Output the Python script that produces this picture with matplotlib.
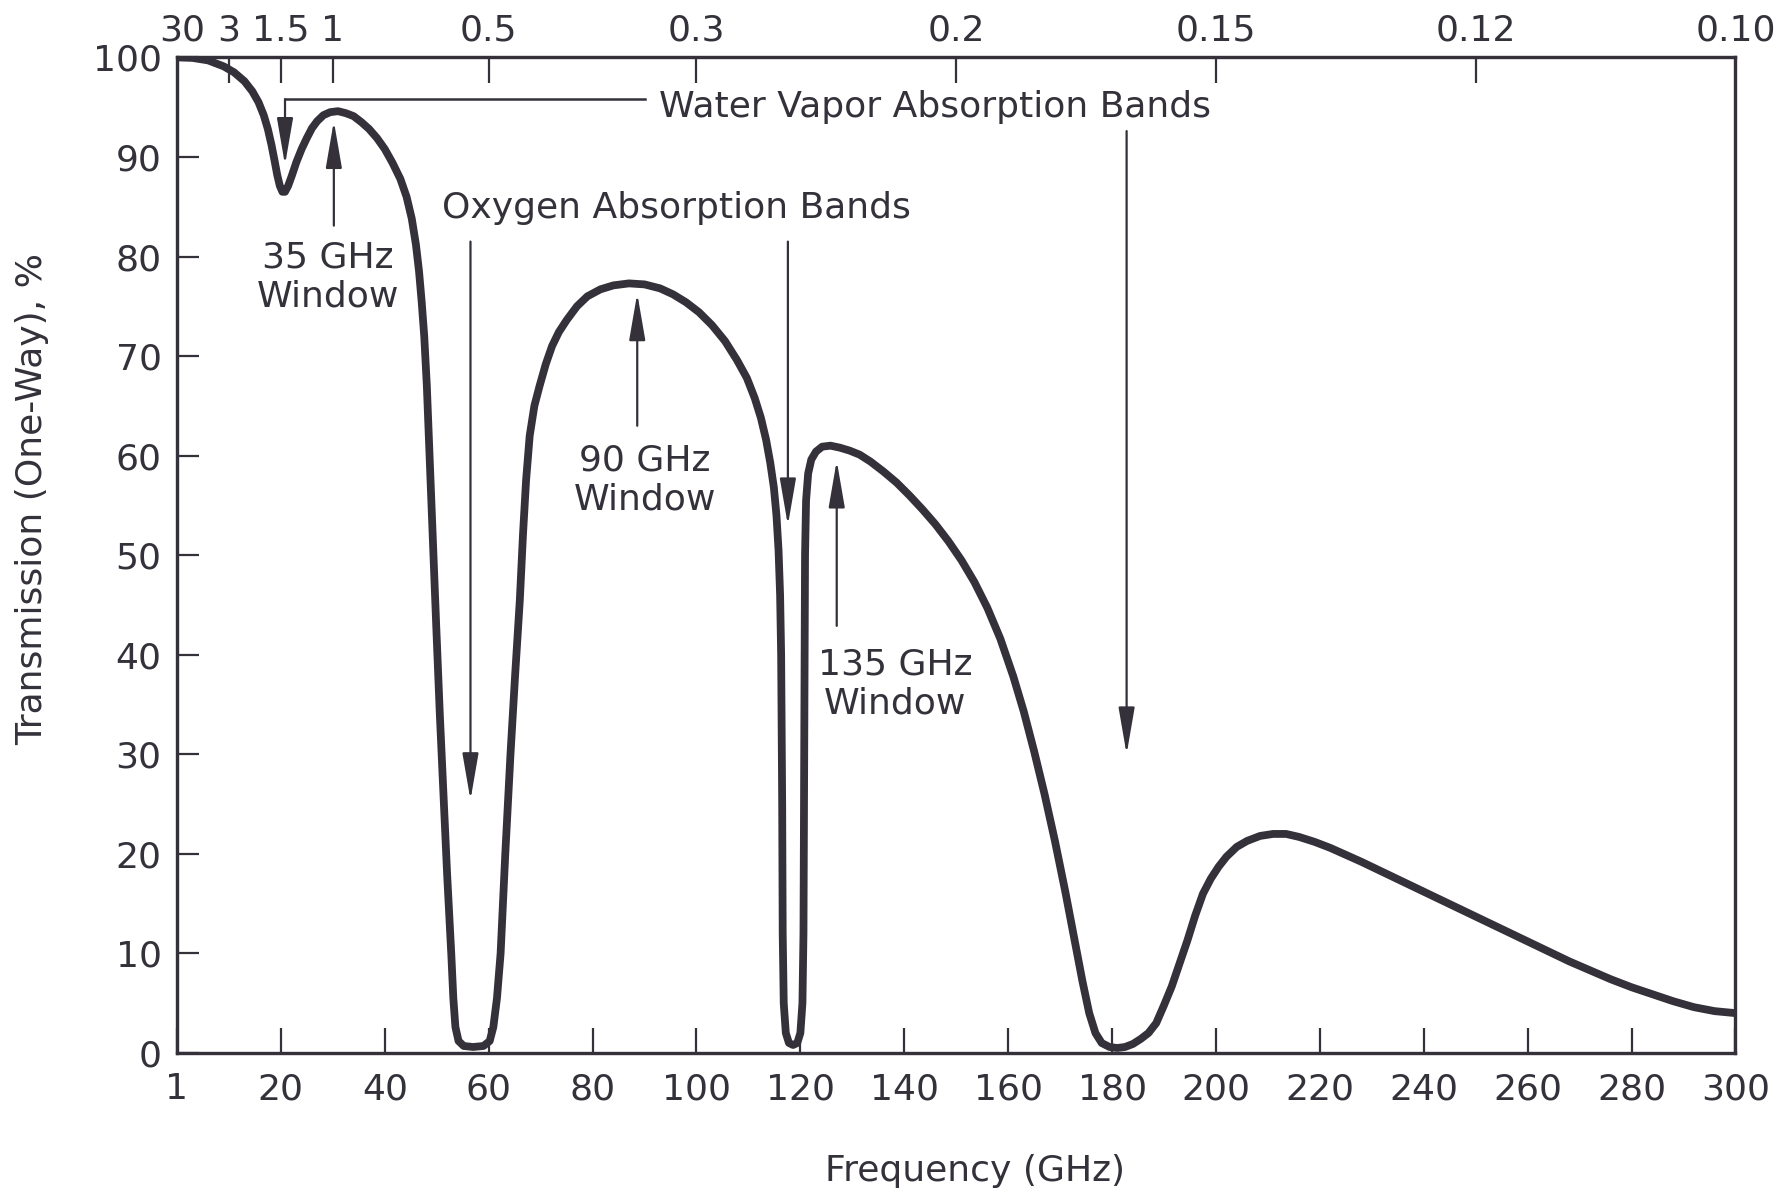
#!/usr/bin/env python3
# -*- coding: utf-8 -*-

"""Atmospheric transmission vs. frequency, 1-300 GHz."""

import matplotlib
matplotlib.use('Agg')
import matplotlib.pyplot as plt
from matplotlib.patches import ArrowStyle


# Data.
freq_ghz = [0, 3, 6, 9, 11, 13, 14.5, 15.7, 16.7, 17.5,
            18.2, 18.8, 19.3, 19.8, 20.3, 20.8, 21.4, 22.1, 23, 24,
            25, 26, 27, 28.2, 29.5, 31, 32.5, 34, 35.5, 37,
            38.5, 40, 41.5, 43, 44.2, 45.2, 46, 46.6, 47.1, 47.6,
            48.1, 48.7, 49.3, 49.9, 50.6, 51.3, 52.0, 52.8, 53.2, 53.6,
            54.2, 55.2, 57, 59, 60.2, 60.9, 61.6, 62.3, 63.2, 64.2,
            65.1, 66.0, 66.6, 67.2, 67.9, 68.8, 69.8, 71.0, 72.2, 73.5,
            75, 77, 79, 81.5, 84, 87, 90, 93, 95.5, 98,
            100.5, 103, 105.5, 107.8, 109.7, 111.2, 112.4, 113.4, 114.2, 114.9,
            115.4, 115.8, 116.1, 116.3, 116.5, 116.6, 116.8, 117.2, 117.8, 118.6,
            119.4, 120.0, 120.4, 120.6, 120.7, 120.8, 120.9, 121.1, 121.5, 122.1,
            123, 124.2, 125.8, 127.6, 129.5, 131.4, 133.5, 136, 138.5, 141,
            143.5, 146, 148.5, 151, 153.5, 156, 158.5, 161, 163, 165,
            167, 169, 171, 172.8, 174.3, 175.6, 176.8, 178, 179.5, 181,
            182.5, 184, 185.5, 187, 188.5, 190, 191.5, 193, 194.5, 196,
            197.5, 199, 200.5, 202, 204, 206, 208.5, 211, 213.5, 216,
            219, 222, 225, 228, 232, 236, 240, 244, 248, 252,
            256, 260, 264, 268, 272, 276, 280, 284, 288, 292,
            296, 300]
transmission_pct = [100, 99.95, 99.7, 99.1, 98.5, 97.6, 96.6, 95.5, 94.2, 92.8,
                    91.2, 89.6, 88.2, 87.1, 86.5, 86.5, 87.1, 88.1, 89.5, 90.8,
                    91.9, 92.9, 93.6, 94.2, 94.5, 94.6, 94.4, 94.1, 93.5, 92.8,
                    91.9, 90.8, 89.4, 87.8, 86.0, 83.8, 81.2, 78.5, 75.5, 72,
                    67, 59, 51, 43, 34, 26, 18, 10, 5.5, 2.6,
                    1.2, 0.7, 0.6, 0.7, 1.2, 2.6, 5.5, 10, 20, 30,
                    38, 45.5, 52, 57.5, 62, 65, 67, 69.2, 71, 72.4,
                    73.6, 75, 76, 76.7, 77.1, 77.3, 77.2, 76.8, 76.2, 75.4,
                    74.4, 73.1, 71.5, 69.6, 67.8, 65.8, 63.8, 61.6, 59.3, 56.8,
                    54, 50.5, 46, 40, 25, 12, 5, 2, 1, 0.8,
                    1, 2, 5, 12, 25, 40, 50, 55.5, 58.2, 59.6,
                    60.4, 60.9, 61, 60.8, 60.5, 60.1, 59.4, 58.4, 57.3, 56,
                    54.6, 53.1, 51.4, 49.5, 47.3, 44.7, 41.6, 37.8, 34.3, 30.3,
                    26, 21.3, 16.2, 11.3, 7.2, 4, 2, 1, 0.6, 0.5,
                    0.6, 0.9, 1.4, 2, 3, 4.8, 6.7, 9, 11.3, 13.8,
                    16, 17.5, 18.7, 19.7, 20.7, 21.3, 21.8, 22, 22, 21.7,
                    21.2, 20.6, 19.9, 19.2, 18.2, 17.2, 16.2, 15.2, 14.2, 13.2,
                    12.2, 11.2, 10.2, 9.2, 8.3, 7.4, 6.6, 5.9, 5.2, 4.6,
                    4.2, 4.0]

freq_ticks = [0, 20, 40, 60, 80, 100, 120, 140, 160, 180, 200, 220, 240, 260, 280, 300]
freq_labels = ['1', '20', '40', '60', '80', '100', '120', '140', '160', '180',
               '200', '220', '240', '260', '280', '300']
trans_ticks = [0, 10, 20, 30, 40, 50, 60, 70, 80, 90, 100]

# Wavelength scale along the top (cm), placed at f = 30 / wavelength.
wavelength_cm = [30, 3, 1.5, 1, 0.5, 0.3, 0.2, 0.15, 0.12, 0.10]
wavelength_labels = ['30', '3', '1.5', '1', '0.5', '0.3', '0.2', '0.15', '0.12', '0.10']

# Windows: label, label x, arrow x, arrow tail, arrow tip, baselines (%).
windows = [
    ('35 GHz', 29.0, 30.2, 83.1, 93.6, 78.9, 75.0),
    ('90 GHz', 90.1, 88.6, 63.0, 76.3, 58.5, 54.6),
    ('135 GHz', 138.3, 127.0, 42.9, 59.5, 38.0, 34.1),
]
# Absorption arrows: x, tail, tip.
oxygen_arrows = [(56.5, 81.5, 25.4), (117.6, 81.5, 53.0)]
water_arrows = [(20.8, 95.8, 89.2), (182.8, 92.6, 30.0)]

ink = '#34313a'
font_size = 26

plt.rcParams['font.family'] = 'DejaVu Sans'
plt.rcParams['text.color'] = ink

# Plot.
fig = plt.figure(figsize=(17.91, 11.96), dpi=100)
ax = fig.add_axes([0.0988, 0.1196, 0.8702, 0.8324])

ax.plot(freq_ghz, transmission_pct, color=ink, lw=5.6,
        solid_joinstyle='round', solid_capstyle='round', zorder=3)

ax.set_xlim(0, 300)
ax.set_ylim(0, 100)
ax.set_xticks(freq_ticks)
ax.set_xticklabels(freq_labels)
ax.set_yticks(trans_ticks)
ax.tick_params(axis='x', direction='in', length=18, width=1.6, color=ink,
               labelsize=font_size, labelcolor=ink, pad=14)
ax.tick_params(axis='y', direction='in', length=16, width=1.6, color=ink,
               labelsize=font_size, labelcolor=ink, pad=11)
for s in ax.spines.values():
    s.set_linewidth(2.3)
    s.set_color(ink)

ax2 = ax.twiny()
ax2.set_xlim(0, 300)
ax2.set_xticks([30.0 / w for w in wavelength_cm])
ax2.set_xticklabels(wavelength_labels)
ax2.tick_params(axis='x', direction='in', length=19, width=1.6, color=ink,
                labelsize=font_size, labelcolor=ink, pad=7)
# The end marks sit on the side spines, so only their labels are kept.
for t in (ax2.xaxis.get_major_ticks()[0], ax2.xaxis.get_major_ticks()[-1]):
    t.tick1line.set_visible(False)
    t.tick2line.set_visible(False)
for s in ax2.spines.values():
    s.set_linewidth(2.3)
    s.set_color(ink)

head = ArrowStyle('-|>', head_length=29, head_width=5)


def arrow(x, y0, y1):
    ax.annotate('', xy=(x, y1), xytext=(x, y0),
                arrowprops=dict(arrowstyle=head, mutation_scale=1, lw=1.6,
                                color=ink, shrinkA=0, shrinkB=0), zorder=4)


# Water vapour bands: bracket from the label down to the 22 GHz line.
ax.text(92.7, 94.0, 'Water Vapor Absorption Bands', fontsize=font_size,
        ha='left', va='baseline')
ax.plot([90.0, water_arrows[0][0]], [water_arrows[0][1]] * 2, color=ink, lw=1.8)
for x, y0, y1 in water_arrows:
    arrow(x, y0, y1)

# Oxygen bands.
ax.text(51.0, 83.9, 'Oxygen Absorption Bands', fontsize=font_size,
        ha='left', va='baseline')
for x, y0, y1 in oxygen_arrows:
    arrow(x, y0, y1)

# Transmission windows.
for name, tx, ax_x, y0, y1, ty1, ty2 in windows:
    ax.text(tx, ty1, name, fontsize=font_size, ha='center', va='baseline')
    ax.text(tx, ty2, 'Window', fontsize=font_size, ha='center', va='baseline')
    arrow(ax_x, y0, y1)

fig.text(0.5445, 0.021, 'Frequency (GHz)', fontsize=font_size,
         ha='center', va='center', color=ink)
fig.text(0.018, 0.583, 'Transmission (One-Way), %', fontsize=font_size,
         ha='center', va='center', rotation=90, color=ink)

fig.savefig('out.png', dpi=100, facecolor='white')
